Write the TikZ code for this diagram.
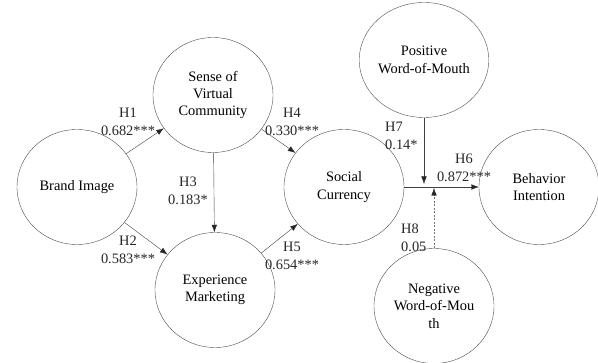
\documentclass[tikz,border=0pt]{standalone}
\usepackage{fontspec}
\setmainfont{Liberation Serif}
\usetikzlibrary{arrows.meta,shapes.geometric}

\begin{document}
\begin{tikzpicture}[x=1pt,y=-1pt,
        font=\fontsize{14.4}{17.4}\selectfont,
        construct/.style={ellipse, draw=black!70, thin, minimum width=120pt,
            minimum height=115pt, align=center, inner sep=0pt},
        path/.style={draw=black!75, thin,
            -{Latex[length=7.5pt,width=5.5pt,color=black!85]}},
        coef/.style={align=center, inner sep=0pt, text=black!85}]
        \useasboundingbox (0,0) rectangle (598,363);

        % constructs
        \node [construct] (bi) at (77,187) {Brand Image};
        \node [construct] (svc) at (213,95) {Sense of\\Virtual\\Community};
        \node [construct] (em) at (215,290) {Experience\\Marketing};
        \node [construct] (sc) at (344,187) {Social\\Currency};
        \node [construct] (bint) at (539,187) {Behavior\\Intention};
        \node [construct] (pwom) at (424,60) {Positive\\Word-of-Mouth};
        \node [construct] (nwom) at (434,306) {Negative\\Word-of-Mou\\th};

        \coordinate (pj) at (424,184);
        \coordinate (nj) at (434,188);

        % paths
        \draw [path] (bi) -- (svc);
        \draw [path] (bi) -- (em);
        \draw [path] (svc) -- (em);
        \draw [path] (svc) -- (sc);
        \draw [path] (em) -- (sc);
        \draw [path] (sc) -- (bint);
        \draw [path] (pwom) -- (pj);
        \draw [path, draw=black!55, dash pattern=on 2pt off 1.5pt] (nwom) -- (nj);

        % coefficients
        \node [coef] (h1) at (128,122) {H1\\0.682***};
        \node [coef] (h2) at (128,250) {H2\\0.583***};
        \node [coef] (h3) at (188,191) {H3\\0.183*};
        \node [coef] (h4) at (292,122) {H4\\0.330***};
        \node [coef] (h5) at (292,256) {H5\\0.654***};
        \node [coef, anchor=west, align=left] (h7) at (385,136) {H7\\0.14*};
        \node [coef] (h6) at (464,168) {H6\\0.872***};
        \node [coef, anchor=west, align=left] (h8) at (401,238) {H8\\0.05};
    \end{tikzpicture}
\end{document}
